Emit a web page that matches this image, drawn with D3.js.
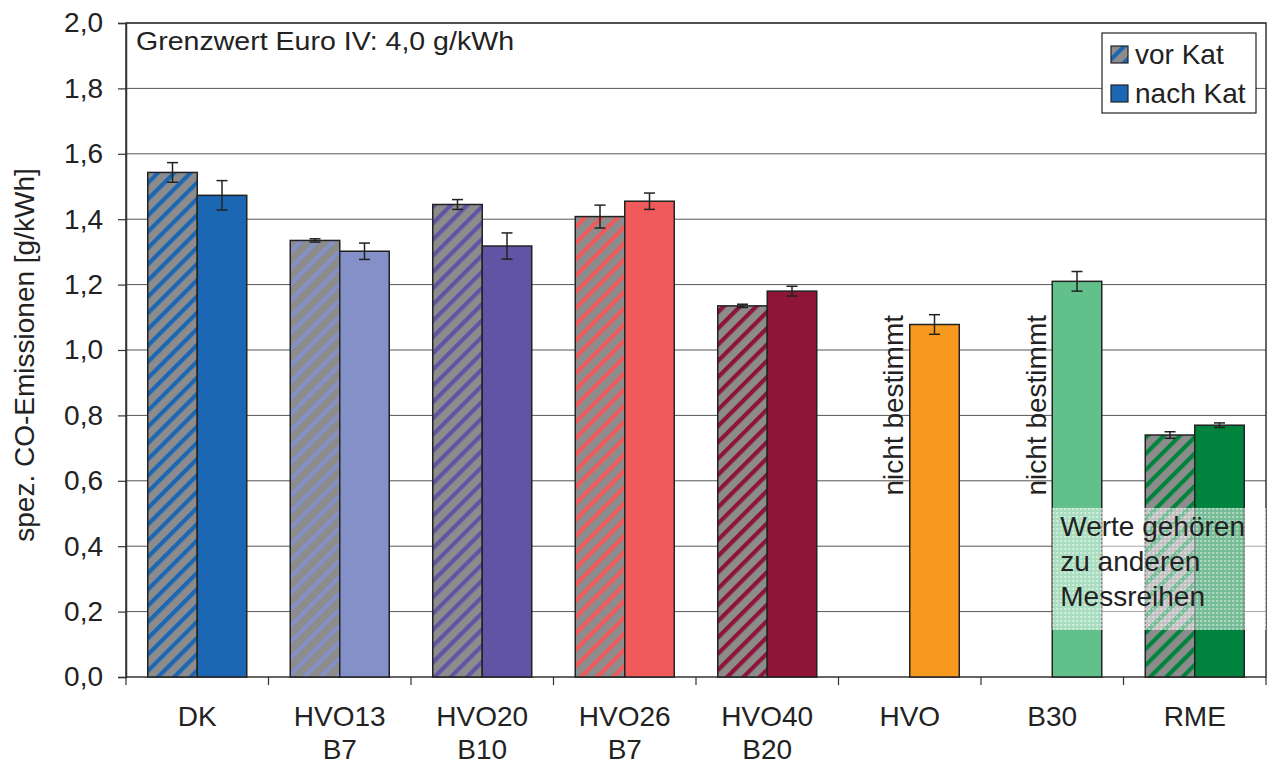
<!DOCTYPE html>
<html>
<head>
<meta charset="utf-8">
<script src="https://cdn.jsdelivr.net/npm/d3@7/dist/d3.min.js"></script>
<style>
  body { margin: 0; background: #fff; }
  svg { font-family: "Liberation Sans", Arial, Helvetica, sans-serif; }
</style>
</head>
<body>
<svg width="1268" height="765"></svg>
<script>
// data
const categories = ['DK', 'HVO13\nB7', 'HVO20\nB10', 'HVO26\nB7', 'HVO40\nB20', 'HVO', 'B30', 'RME'];
const vorKat    = [1.543, 1.335, 1.445, 1.408, 1.135, null, null, 0.740];
const vorKatErr = [0.030, 0.005, 0.015, 0.035, 0.005, null, null, 0.010];
const nachKat    = [1.473, 1.302, 1.318, 1.455, 1.180, 1.078, 1.210, 0.770];
const nachKatErr = [0.045, 0.025, 0.040, 0.025, 0.015, 0.030, 0.030, 0.007];
const colors = ['#1b67b3', '#8490c8', '#6254a4', '#f05a5a', '#8e1538', '#f7991e', '#62c18a', '#00843d'];
const yTicks = [0, 0.2, 0.4, 0.6, 0.8, 1.0, 1.2, 1.4, 1.6, 1.8, 2.0];

const svg = d3.select('svg');
const width = +svg.attr('width');
const margin = { top: 23, right: 2, bottom: 88, left: 126 };
const innerW = width - margin.left - margin.right;
const innerH = +svg.attr('height') - margin.top - margin.bottom;
const g = svg.append('g').attr('transform', `translate(${margin.left},${margin.top})`);

const x = d3.scaleBand().domain(d3.range(categories.length)).range([0, innerW]);
const inner = d3.scaleBand().domain(['vor', 'nach']).range([0, 99]);
const barOff = (x.bandwidth() - 99) / 2;
const y = d3.scaleLinear().domain([0, 2]).range([innerH, 0]);

// hatch patterns: grey with diagonal stripes of series colour
const defs = svg.append('defs');
colors.forEach((c, i) => {
  const p = defs.append('pattern')
    .attr('id', 'hatch' + i)
    .attr('patternUnits', 'userSpaceOnUse')
    .attr('width', 11.5).attr('height', 11.5)
    .attr('patternTransform', 'rotate(45)');
  p.append('rect').attr('width', 11.5).attr('height', 11.5).attr('fill', '#8c8c8c');
  p.append('rect').attr('x', 0).attr('width', 4.2).attr('height', 11.5).attr('fill', c);
});
const fine = defs.append('pattern')
  .attr('id', 'fine').attr('patternUnits', 'userSpaceOnUse')
  .attr('width', 4).attr('height', 4);
fine.append('rect').attr('width', 4).attr('height', 4).attr('fill', '#fff').attr('opacity', 0.45);
fine.append('rect').attr('width', 2).attr('height', 2).attr('fill', '#fff').attr('opacity', 0.5);

// gridlines
g.append('g').selectAll('line').data(yTicks.slice(1))
  .enter().append('line')
  .attr('x1', 0).attr('x2', innerW)
  .attr('y1', d => y(d)).attr('y2', d => y(d))
  .attr('stroke', '#555').attr('stroke-width', 1);

// frame
g.append('rect').attr('width', innerW).attr('height', innerH)
  .attr('fill', 'none').attr('stroke', '#333').attr('stroke-width', 1.5);

// y axis
const yAxis = g.append('g')
  .call(d3.axisLeft(y).tickValues(yTicks).tickSize(8).tickPadding(15)
    .tickFormat(d => d3.format('.1f')(d).replace('.', ',')));
yAxis.select('.domain').attr('stroke', '#333').attr('stroke-width', 1.5);
yAxis.selectAll('line').attr('stroke', '#333').attr('stroke-width', 1.2);
yAxis.selectAll('text').attr('font-size', 28).attr('fill', '#222');

// x axis ticks at category boundaries
g.append('g').selectAll('line').data(d3.range(categories.length + 1))
  .enter().append('line')
  .attr('x1', d => d * x.step()).attr('x2', d => d * x.step())
  .attr('y1', innerH).attr('y2', innerH + 8)
  .attr('stroke', '#333').attr('stroke-width', 1.2);

// x labels
const xl = g.append('g').selectAll('text').data(categories)
  .enter().append('text')
  .attr('text-anchor', 'middle')
  .attr('font-size', 28).attr('fill', '#222')
  .attr('transform', (d, i) => `translate(${x(i) + x.bandwidth() / 2},${innerH + 49})`);
xl.selectAll('tspan').data(d => d.split('\n'))
  .enter().append('tspan')
  .attr('x', 0).attr('dy', (d, i) => i === 0 ? 0 : 33)
  .text(d => d);

// bars
const rows = [];
categories.forEach((c, i) => {
  if (vorKat[i] != null) rows.push({ i, s: 'vor', v: vorKat[i], e: vorKatErr[i] });
  rows.push({ i, s: 'nach', v: nachKat[i], e: nachKatErr[i] });
});
const bars = g.append('g');
bars.selectAll('rect').data(rows)
  .enter().append('rect')
  .attr('x', d => x(d.i) + barOff + inner(d.s))
  .attr('y', d => y(d.v))
  .attr('width', inner.bandwidth())
  .attr('height', d => innerH - y(d.v))
  .attr('fill', d => d.s === 'vor' ? `url(#hatch${d.i})` : colors[d.i])
  .attr('stroke', '#222').attr('stroke-width', 1.5);

// error bars
const eb = g.append('g').attr('stroke', '#222').attr('stroke-width', 1.5);
rows.forEach(d => {
  const cx = x(d.i) + barOff + inner(d.s) + inner.bandwidth() / 2;
  const y0 = y(d.v - d.e), y1 = y(d.v + d.e);
  eb.append('line').attr('x1', cx).attr('x2', cx).attr('y1', y0).attr('y2', y1);
  eb.append('line').attr('x1', cx - 5.5).attr('x2', cx + 5.5).attr('y1', y0).attr('y2', y0);
  eb.append('line').attr('x1', cx - 5.5).attr('x2', cx + 5.5).attr('y1', y1).attr('y2', y1);
});

// "nicht bestimmt" for missing vor Kat values
categories.forEach((c, i) => {
  if (vorKat[i] != null) return;
  const cx = x(i) + barOff + inner('vor') + inner.bandwidth() / 2 + 18;
  g.append('text')
    .attr('transform', `translate(${cx},${y(0.555)}) rotate(-90)`)
    .attr('font-size', 28).attr('fill', '#222')
    .text('nicht bestimmt');
});

// note box over B30/RME
const boxX = x(6) + barOff + inner('nach');
const nb = g.append('g').attr('transform', `translate(${boxX},${y(0.517)})`);
nb.append('rect').attr('width', innerW - boxX).attr('height', y(0.144) - y(0.517))
  .attr('fill', 'url(#fine)');
['Werte gehören', 'zu anderen', 'Messreihen'].forEach((t, k) => {
  nb.append('text').attr('x', 8).attr('y', 28 + k * 35)
    .attr('font-size', 28).attr('fill', '#222').text(t);
});

// annotation
g.append('text').attr('x', 10).attr('y', 27)
  .attr('font-size', 25).attr('fill', '#222')
  .attr('textLength', 378).attr('lengthAdjust', 'spacingAndGlyphs')
  .text('Grenzwert Euro IV: 4,0 g/kWh');

// y title
svg.append('text')
  .attr('transform', `translate(34,${margin.top + innerH / 2 + 5}) rotate(-90)`)
  .attr('text-anchor', 'middle').attr('font-size', 28).attr('fill', '#222')
  .text('spez. CO-Emissionen [g/kWh]');

// legend
const lg = svg.append('g').attr('transform', 'translate(1102,33)');
lg.append('rect').attr('width', 154).attr('height', 80)
  .attr('fill', '#fff').attr('stroke', '#222').attr('stroke-width', 1.2);
[{ t: 'vor Kat', f: 'url(#hatch0)' }, { t: 'nach Kat', f: colors[0] }].forEach((d, k) => {
  lg.append('rect').attr('x', 9).attr('y', 13 + k * 39).attr('width', 17).attr('height', 17)
    .attr('fill', d.f).attr('stroke', '#222').attr('stroke-width', 1.2);
  lg.append('text').attr('x', 33).attr('y', 31 + k * 39)
    .attr('font-size', 28).attr('fill', '#222').text(d.t);
});
</script>
</body>
</html>
